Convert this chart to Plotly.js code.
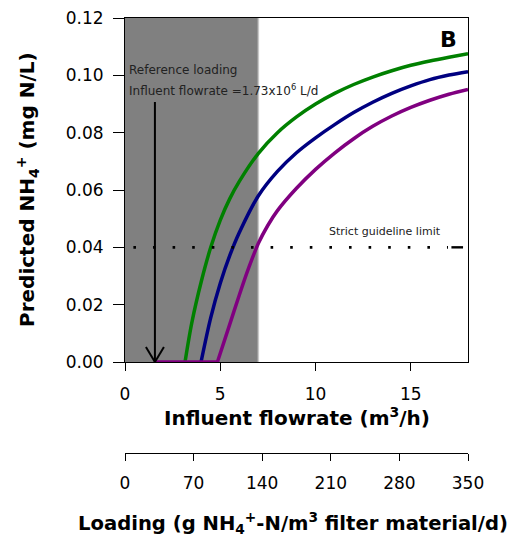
<!DOCTYPE html>
<html>
<head>
<meta charset="utf-8">
<script src="https://cdn.plot.ly/plotly-3.0.1.min.js"></script>
<style>html,body{margin:0;padding:0;background:#fff;}#chart{width:514px;height:542px;}</style>
</head>
<body>
<div id="chart"></div>
<script>
// ---- Data ----
const flowGreen = [3.15, 3.5, 4.0, 4.5, 5.0, 5.5, 6.0, 7.0, 8.0, 9.0, 10.0, 11.0, 12.0, 13.0, 14.0, 15.0, 16.0, 17.0, 18.0];
const nh4Green  = [0, 0.0135, 0.0280, 0.0400, 0.0495, 0.0570, 0.0630, 0.0728, 0.0800, 0.0855, 0.0900, 0.0937, 0.0968, 0.0994, 0.1016, 0.1035, 0.1050, 0.1063, 0.1075];

const flowBlue = [3.99, 4.5, 5.0, 5.5, 6.0, 7.0, 8.0, 9.0, 10.0, 11.0, 12.0, 13.0, 14.0, 15.0, 16.0, 17.0, 18.0];
const nh4Blue  = [0, 0.0155, 0.0275, 0.0372, 0.0452, 0.0580, 0.0665, 0.0730, 0.0782, 0.0828, 0.0870, 0.0906, 0.0937, 0.0963, 0.0985, 0.1001, 0.1013];

const flowPurple = [1.6, 4.85, 5.5, 6.0, 6.5, 7.0, 7.5, 8.0, 9.0, 10.0, 11.0, 12.0, 13.0, 14.0, 15.0, 16.0, 17.0, 18.0];
const nh4Purple  = [0, 0, 0.0132, 0.0234, 0.0330, 0.0414, 0.0477, 0.0528, 0.0606, 0.0672, 0.0729, 0.0779, 0.0822, 0.0858, 0.0888, 0.0913, 0.0934, 0.0951];

const guidelineLimit = 0.04;         // strict guideline limit (mg N/L)
const referenceFlow = 1.57;          // reference loading (m3/h)
const shadedFlow = [0, 7.0];         // shaded flowrate band

const flowTicks = [0, 5, 10, 15];
const flowRange = [0, 18];
const loadingTicks = [0, 70, 140, 210, 280, 350];
const loadingRange = [0, 350];
const nh4Ticks = [0, 0.02, 0.04, 0.06, 0.08, 0.10, 0.12];
const nh4Range = [0, 0.12];

// ---- Build traces ----
const GREEN = '#008000', BLUE = '#000080', PURPLE = '#800080';
const LW = 3.5;
const SMOOTH = 0.9;

// split purple into flat (zero) part and rising part
let lastZero = 0;
for (let i = 0; i < nh4Purple.length; i++) { if (nh4Purple[i] === 0) lastZero = i; }

const traces = [
  {x: flowGreen, y: nh4Green, mode: 'lines', line: {color: GREEN, width: LW, shape: 'spline', smoothing: SMOOTH}, hoverinfo: 'skip'},
  {x: flowBlue, y: nh4Blue, mode: 'lines', line: {color: BLUE, width: LW, shape: 'spline', smoothing: SMOOTH}, hoverinfo: 'skip'},
  {x: flowPurple.slice(lastZero), y: nh4Purple.slice(lastZero), mode: 'lines', line: {color: PURPLE, width: LW, shape: 'spline', smoothing: SMOOTH}, hoverinfo: 'skip'},
  {x: flowPurple.slice(0, lastZero + 1), y: nh4Purple.slice(0, lastZero + 1), mode: 'lines', line: {color: PURPLE, width: LW}, hoverinfo: 'skip', cliponaxis: false},
  // guideline limit (dotted) and its short solid tail
  {x: [0.44, 16.95], y: [guidelineLimit, guidelineLimit], mode: 'lines', line: {color: 'black', width: 2.6, dash: '2.6px,17px'}, hoverinfo: 'skip'},
  {x: [17.13, 17.74], y: [guidelineLimit, guidelineLimit], mode: 'lines', line: {color: 'black', width: 2.4}, hoverinfo: 'skip'},
  // invisible trace to carry the loading axis
  {x: loadingRange, y: [null, null], xaxis: 'x2', yaxis: 'y', mode: 'lines', hoverinfo: 'skip', showlegend: false}
];

const axisCommon = {showgrid: false, zeroline: false, tickcolor: 'black', tickwidth: 1, linecolor: 'black', linewidth: 1};
const tickFont = {family: 'DejaVu Sans, sans-serif', size: 17, color: 'black'};
const titleFont = {family: 'DejaVu Sans, sans-serif', size: 20, color: 'black', weight: 'bold'};

const layout = {
  width: 514, height: 542,
  margin: {l: 125, r: 46, t: 18, b: 89, pad: 0},
  paper_bgcolor: 'white', plot_bgcolor: 'white',
  showlegend: false,
  font: {family: 'DejaVu Sans, sans-serif', color: 'black'},
  xaxis: Object.assign({}, axisCommon, {domain: [0, 1], range: flowRange, anchor: 'y', tickmode: 'array', tickvals: flowTicks,
    ticks: 'outside', ticklen: 8, showline: true, mirror: true, ticklabelstandoff: 9, tickfont: tickFont}),
  xaxis3: Object.assign({}, axisCommon, {overlaying: 'x', anchor: 'y', range: flowRange, tickmode: 'array', tickvals: flowTicks,
    ticks: 'inside', ticklen: 8, showticklabels: false, showline: false}),
  xaxis2: Object.assign({}, axisCommon, {overlaying: 'x', anchor: 'free', position: 0, side: 'bottom', range: loadingRange,
    tickmode: 'array', tickvals: loadingTicks, ticks: 'outside', ticklen: 7, showline: true, ticklabelstandoff: 8, tickfont: tickFont}),
  xaxis4: Object.assign({}, axisCommon, {overlaying: 'x', anchor: 'free', position: 0, side: 'bottom', range: loadingRange,
    tickmode: 'array', tickvals: loadingTicks, ticks: 'inside', ticklen: 7, showticklabels: false, showline: false}),
  yaxis: Object.assign({}, axisCommon, {domain: [0.2092, 1], range: nh4Range, anchor: 'x', tickmode: 'array', tickvals: nh4Ticks,
    tickformat: '.2f', ticks: 'outside', ticklen: 11, showline: true, mirror: true, ticklabelstandoff: 6, tickfont: tickFont}),
  yaxis2: Object.assign({}, axisCommon, {overlaying: 'y', anchor: 'x', range: nh4Range, tickmode: 'array', tickvals: nh4Ticks,
    ticks: 'inside', ticklen: 11, showticklabels: false, showline: false}),
  shapes: [
    {type: 'rect', xref: 'x', yref: 'y', x0: shadedFlow[0], x1: shadedFlow[1], y0: nh4Range[0], y1: nh4Range[1],
     fillcolor: '#808080', line: {width: 0}, layer: 'below'},
    {type: 'line', xref: 'x', yref: 'y', x0: shadedFlow[1], x1: shadedFlow[1], y0: nh4Range[0], y1: nh4Range[1],
     line: {color: '#c8c8c8', width: 1.5}, layer: 'below'},
    // reference loading arrow
    {type: 'line', xref: 'x', yref: 'y', x0: referenceFlow, x1: referenceFlow, y0: 0.0907, y1: 0, line: {color: 'black', width: 2}},
    {type: 'line', xref: 'x', yref: 'y', xsizemode: 'pixel', ysizemode: 'pixel', xanchor: referenceFlow, yanchor: 0,
     x0: -9, x1: 0, y0: 15, y1: 0, line: {color: 'black', width: 2}},
    {type: 'line', xref: 'x', yref: 'y', xsizemode: 'pixel', ysizemode: 'pixel', xanchor: referenceFlow, yanchor: 0,
     x0: 9, x1: 0, y0: 15, y1: 0, line: {color: 'black', width: 2}}
  ],
  annotations: [
    {xref: 'x', yref: 'y', x: 0, y: 0.1018, xanchor: 'left', yanchor: 'middle', xshift: 2, showarrow: false,
     text: 'Reference loading', font: {family: 'DejaVu Sans, sans-serif', size: 12, color: '#222'}},
    {xref: 'x', yref: 'y', x: 0, y: 0.0950, xanchor: 'left', yanchor: 'middle', xshift: 2, showarrow: false,
     text: 'Influent flowrate =1.73x10<sup>6</sup> L/d', font: {family: 'DejaVu Sans, sans-serif', size: 12, color: '#222'}},
    {xref: 'x', yref: 'y', x: 13.63, y: 0.0455, xanchor: 'center', yanchor: 'middle', showarrow: false,
     text: 'Strict guideline limit', font: {family: 'DejaVu Sans, sans-serif', size: 11, color: '#222'}},
    {xref: 'x', yref: 'y', x: 17.0, y: 0.1125, xanchor: 'center', yanchor: 'middle', showarrow: false,
     text: 'B', font: {family: 'DejaVu Sans, sans-serif', size: 22, color: 'black', weight: 'bold'}},
    {xref: 'paper', yref: 'paper', x: 0.5, y: (453 - 417) / 435, xanchor: 'center', yanchor: 'middle', showarrow: false,
     text: 'Influent flowrate (m<sup>3</sup>/h)', font: titleFont},
    {xref: 'paper', yref: 'paper', x: 0.49, y: (453 - 523) / 435, xanchor: 'center', yanchor: 'middle', showarrow: false,
     text: 'Loading (g NH<sub>4</sub><sup>+</sup>-N/m<sup>3</sup> filter material/d)',
     font: {family: 'DejaVu Sans, sans-serif', size: 19.6, color: 'black', weight: 'bold'}},
    {xref: 'paper', yref: 'y domain', x: 0, y: 0.5, xshift: -97, xanchor: 'center', yanchor: 'middle', textangle: -90, showarrow: false,
     text: 'Predicted NH<sub>4</sub><sup>+</sup> (mg N/L)', font: titleFont}
  ]
};

Plotly.newPlot('chart', traces, layout, {staticPlot: true, displayModeBar: false});
</script>
</body>
</html>
